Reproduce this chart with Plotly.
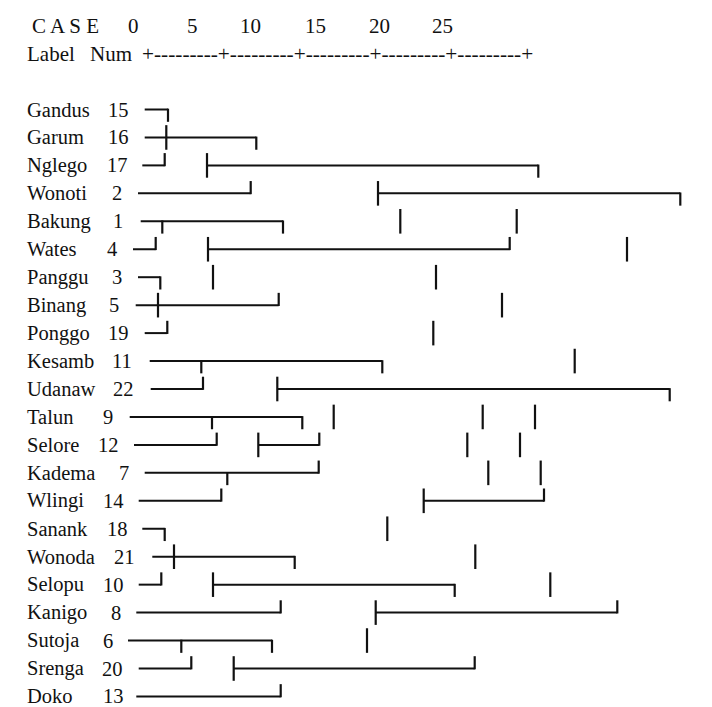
import plotly.graph_objects as go

# ---------------- data ----------------
labels = ["Gandus", "Garum", "Nglego", "Wonoti", "Bakung", "Wates", "Panggu",
          "Binang", "Ponggo", "Kesamb", "Udanaw", "Talun", "Selore", "Kadema",
          "Wlingi", "Sanank", "Wonoda", "Selopu", "Kanigo", "Sutoja", "Srenga",
          "Doko"]
case_nums = [15, 16, 17, 2, 1, 4, 3, 5, 19, 11, 22, 9, 12, 7, 14, 18, 21, 10,
             8, 6, 20, 13]
scale_ticks = [0, 5, 10, 15, 20, 25]
scale_rule = "+---------+---------+---------+---------+---------+"

# horizontal runs of the (garbled) text dendrogram: (row, x_start, x_end)
h_runs = [
    (0, 136.7, 160.0),
    (1, 136.7, 248.3),
    (2, 134.3, 156.7), (2, 199.0, 530.3),
    (3, 130.0, 242.7), (3, 370.0, 672.3),
    (4, 132.7, 275.0),
    (5, 125.0, 147.7), (5, 200.0, 501.7),
    (6, 130.0, 152.3),
    (7, 127.7, 270.7),
    (8, 136.7, 159.3),
    (9, 141.7, 374.3),
    (10, 142.7, 195.0), (10, 269.3, 661.7),
    (11, 121.7, 294.3),
    (12, 126.0, 208.7), (12, 250.3, 311.3),
    (13, 136.7, 310.7),
    (14, 130.7, 213.3), (14, 415.7, 536.0),
    (15, 134.3, 156.7),
    (16, 144.3, 286.7),
    (17, 130.7, 153.3), (17, 205.0, 446.7),
    (18, 128.3, 272.7), (18, 367.7, 609.3),
    (19, 120.0, 264.0),
    (20, 130.7, 183.3), (20, 225.7, 466.7),
    (21, 128.3, 272.7),
]

# vertical glyphs: (row, x, kind)  kind: full = |, up = ┘, down = ┐/┬
v_glyphs = [
    (0, 160.0, "down"),
    (1, 158.3, "full"), (1, 248.3, "down"),
    (2, 156.7, "up"), (2, 199.0, "full"), (2, 530.3, "down"),
    (3, 242.7, "up"), (3, 370.0, "full"), (3, 672.3, "down"),
    (4, 154.3, "down"), (4, 275.0, "down"), (4, 392.3, "full"), (4, 508.7, "full"),
    (5, 147.7, "up"), (5, 200.0, "full"), (5, 501.7, "up"), (5, 619.0, "full"),
    (6, 152.3, "down"), (6, 205.0, "full"), (6, 428.0, "full"),
    (7, 150.0, "full"), (7, 270.7, "up"), (7, 494.0, "full"),
    (8, 159.3, "up"), (8, 425.3, "full"),
    (9, 193.3, "down"), (9, 374.3, "down"), (9, 566.7, "full"),
    (10, 195.0, "up"), (10, 269.3, "full"), (10, 661.7, "down"),
    (11, 204.0, "down"), (11, 294.3, "down"), (11, 325.7, "full"),
    (11, 474.7, "full"), (11, 527.0, "full"),
    (12, 208.7, "up"), (12, 250.3, "full"), (12, 311.3, "up"),
    (12, 459.3, "full"), (12, 512.0, "full"),
    (13, 219.3, "down"), (13, 310.7, "up"), (13, 480.3, "full"), (13, 532.7, "full"),
    (14, 213.3, "up"), (14, 415.7, "full"), (14, 536.0, "up"),
    (15, 156.7, "down"), (15, 379.3, "full"),
    (16, 166.0, "full"), (16, 286.7, "down"), (16, 467.3, "full"),
    (17, 153.3, "up"), (17, 205.0, "full"), (17, 446.7, "down"), (17, 542.3, "full"),
    (18, 272.7, "up"), (18, 367.7, "full"), (18, 609.3, "up"),
    (19, 173.3, "down"), (19, 264.0, "down"), (19, 359.0, "full"),
    (20, 183.3, "up"), (20, 225.7, "full"), (20, 466.7, "up"),
    (21, 272.7, "up"),
]

# ---------------- layout constants ----------------
W, H = 712, 707
ROW0_PX, ROW_PX = 101.5, 27.95
Y_TOP = -ROW0_PX / ROW_PX
Y_BOT = (H - ROW0_PX) / ROW_PX
HALF = 0.44
FONT = "Liberation Serif, Times New Roman, serif"
INK = "#111111"

label_x = 17.5
num_x = [99, 99, 97.5, 102.5, 104, 97.5, 102.5, 100, 99, 103, 104, 94, 88.5,
         109.5, 94, 97.5, 105, 93.5, 102, 93.5, 92.5, 93.5]
tick_x = [125, 184, 242.5, 307.5, 371, 434.5]

# ---------------- marks ----------------
hx, hy = [], []
for r, x0, x1 in h_runs:
    hx += [x0, x1, None]
    hy += [r, r, None]

vx, vy = [], []
for r, x, kind in v_glyphs:
    if kind == "full":
        a, b = r - HALF, r + HALF
    elif kind == "up":
        a, b = r - HALF, r + 0.03
    else:
        a, b = r - 0.03, r + HALF
    vx += [x, x, None]
    vy += [a, b, None]

fig = go.Figure()
fig.add_trace(go.Scatter(x=hx, y=hy, mode="lines", hoverinfo="skip",
                         line=dict(color=INK, width=2), showlegend=False))
fig.add_trace(go.Scatter(x=vx, y=vy, mode="lines", hoverinfo="skip",
                         line=dict(color=INK, width=2.2), showlegend=False))

ann = []
def txt(x, y, s, anchor="left", size=20.5):
    ann.append(dict(x=x, y=y, xref="x", yref="y", text=s, showarrow=False,
                    xanchor=anchor, yanchor="middle", borderpad=0,
                    font=dict(family=FONT, size=size, color=INK)))

for i, (lab, n) in enumerate(zip(labels, case_nums)):
    txt(label_x, i, lab)
    txt(num_x[i], i, str(n))

txt(23, -3, "C A S E", size=21)
for t, x in zip(scale_ticks, tick_x):
    txt(x, -3, str(t), anchor="center", size=21)
txt(17.5, -2, "Label", size=21)
txt(80.5, -2, "Num", size=21)
txt(133.4, -2, scale_rule, size=21.3)

fig.update_layout(
    width=W, height=H, margin=dict(l=0, r=0, t=0, b=0),
    paper_bgcolor="white", plot_bgcolor="white",
    xaxis=dict(range=[0, W], visible=False, fixedrange=True),
    yaxis=dict(range=[Y_BOT, Y_TOP], visible=False, fixedrange=True),
    annotations=ann,
)

fig.write_html("out.html")
